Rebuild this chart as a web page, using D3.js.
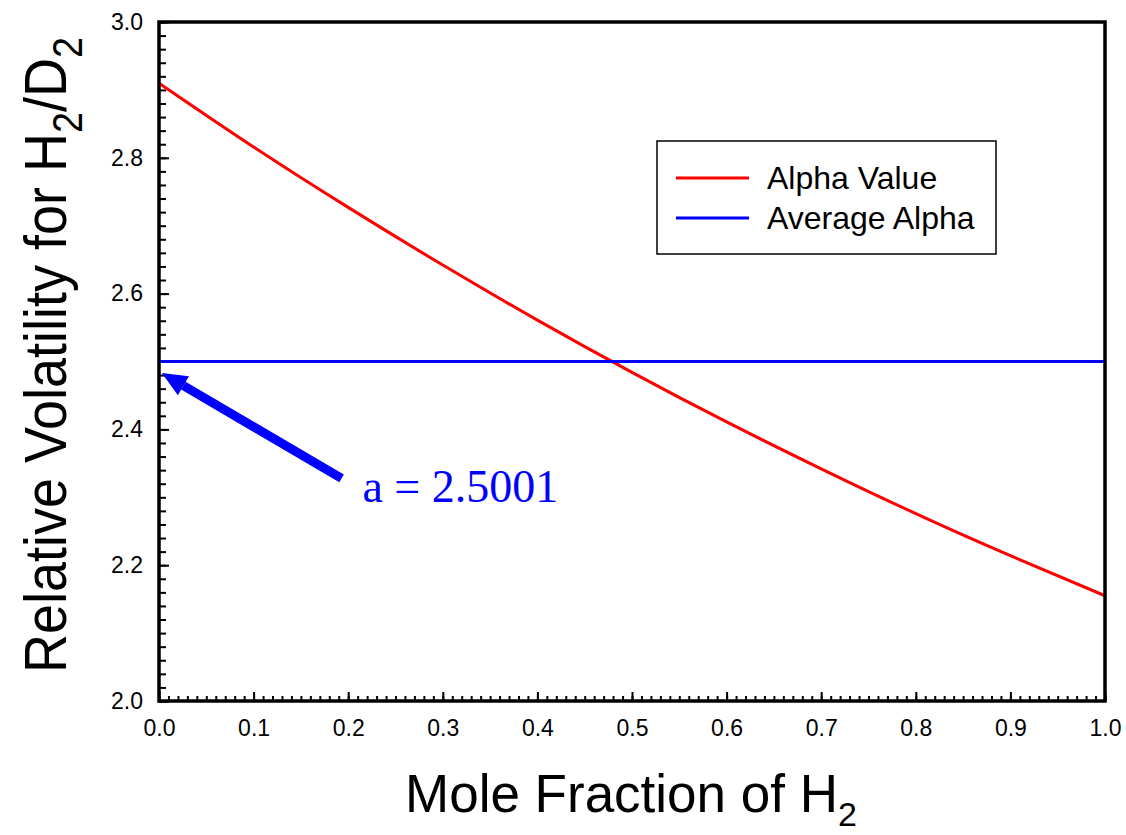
<!DOCTYPE html>
<html>
<head>
<meta charset="utf-8">
<script src="https://cdn.jsdelivr.net/npm/d3@7"></script>
<style>
  body { margin: 0; background: #fff; }
  text { font-family: Arial, "Liberation Sans", sans-serif; }
</style>
</head>
<body>
<svg id="chart"></svg>
<script>
// data
const moleFraction = [0.0, 0.1, 0.2, 0.3, 0.4, 0.5, 0.6, 0.7, 0.8, 0.9, 1.0];
const alphaValue   = [2.910, 2.816, 2.727, 2.642, 2.561, 2.484, 2.411, 2.342, 2.276, 2.214, 2.155];
const averageAlpha = 2.5001;
const seriesNames  = ['Alpha Value', 'Average Alpha'];
const seriesColors = ['#ff0000', '#0000ff'];
const xTicks = [0, 0.1, 0.2, 0.3, 0.4, 0.5, 0.6, 0.7, 0.8, 0.9, 1.0];
const yTicks = [2.0, 2.2, 2.4, 2.6, 2.8, 3.0];
// annotation arrow (data units): tip, tail, label
const arrowTip  = [0.003, 2.483];
const arrowTail = [0.193, 2.328];
const labelPos  = [0.215, 2.293];

const width = 1126, height = 835;
const margin = {top: 22, right: 21, bottom: 134, left: 159};
const w = width - margin.left - margin.right;
const h = height - margin.top - margin.bottom;

const svg = d3.select('#chart').attr('width', width).attr('height', height);
const g = svg.append('g').attr('transform', `translate(${margin.left},${margin.top})`);

const x = d3.scaleLinear().domain([0, 1]).range([0, w]);
const y = d3.scaleLinear().domain([2, 3]).range([h, 0]);

// minor + major ticks, all pointing inward
const xMinor = d3.axisBottom(x).tickValues(d3.range(0, 1.0001, 0.01)).tickSize(-5).tickFormat('');
const yMinor = d3.axisLeft(y).tickValues(d3.range(2, 3.0001, 0.02)).tickSize(-7).tickFormat('');
const xMajor = d3.axisBottom(x).tickValues(xTicks).tickSize(-9).tickPadding(19).tickFormat(d3.format('.1f'));
const yMajor = d3.axisLeft(y).tickValues(yTicks).tickSize(-10).tickPadding(16).tickFormat(d3.format('.1f'));

[[xMinor, true], [xMajor, true], [yMinor, false], [yMajor, false]].forEach(([ax, isX]) => {
  const a = g.append('g').attr('transform', isX ? `translate(0,${h})` : null).call(ax);
  a.select('.domain').remove();
  a.selectAll('.tick line').attr('stroke', '#000').attr('stroke-width', 2);
  a.selectAll('.tick text').attr('font-size', 23).attr('fill', '#000');
});

// curves
const line = d3.line().x((d, i) => x(moleFraction[i])).y(d => y(d)).curve(d3.curveNatural);
g.append('path').datum(alphaValue)
  .attr('d', line).attr('fill', 'none')
  .attr('stroke', seriesColors[0]).attr('stroke-width', 3);

g.append('line')
  .attr('x1', x(0)).attr('x2', x(1))
  .attr('y1', y(averageAlpha)).attr('y2', y(averageAlpha))
  .attr('stroke', seriesColors[1]).attr('stroke-width', 3);

// frame
g.append('rect').attr('width', w).attr('height', h)
  .attr('fill', 'none').attr('stroke', '#000').attr('stroke-width', 3.5);

// arrow annotation
const tip = [x(arrowTip[0]), y(arrowTip[1])];
const tail = [x(arrowTail[0]), y(arrowTail[1])];
const ang = Math.atan2(tip[1] - tail[1], tip[0] - tail[0]);
const headLen = 25, headHalf = 11;
const base = [tip[0] - headLen * Math.cos(ang), tip[1] - headLen * Math.sin(ang)];
g.append('line')
  .attr('x1', tail[0]).attr('y1', tail[1]).attr('x2', base[0]).attr('y2', base[1])
  .attr('stroke', seriesColors[1]).attr('stroke-width', 9);
g.append('path')
  .attr('d', d3.line()([
    tip,
    [base[0] + headHalf * Math.sin(ang), base[1] - headHalf * Math.cos(ang)],
    [base[0] - headHalf * Math.sin(ang), base[1] + headHalf * Math.cos(ang)]
  ]) + 'Z')
  .attr('fill', seriesColors[1]);
g.append('text')
  .attr('x', x(labelPos[0])).attr('y', y(labelPos[1]))
  .style('font-family', '"Liberation Serif", "Times New Roman", serif')
  .attr('font-size', 46).attr('fill', seriesColors[1])
  .text(`a = ${averageAlpha.toFixed(4)}`);

// legend
const lg = svg.append('g').attr('transform', 'translate(657,141)');
lg.append('rect').attr('width', 339).attr('height', 113)
  .attr('fill', '#fff').attr('stroke', '#000').attr('stroke-width', 1.5);
seriesNames.forEach((name, i) => {
  const yy = 37 + i * 40;
  lg.append('line').attr('x1', 19).attr('x2', 92).attr('y1', yy).attr('y2', yy)
    .attr('stroke', seriesColors[i]).attr('stroke-width', 3);
  lg.append('text').attr('x', 110).attr('y', yy + 11)
    .attr('font-size', 32).attr('fill', '#000').text(name);
});

// axis titles
const xt = svg.append('text')
  .attr('transform', 'translate(405,812)')
  .attr('font-size', 53).attr('fill', '#000');
xt.append('tspan').text('Mole Fraction of H');
xt.append('tspan').attr('dy', 14).attr('font-size', 34).text('2');

const yt = svg.append('text')
  .attr('transform', 'translate(66,673) rotate(-90) scale(0.9,1)')
  .attr('font-size', 60).attr('fill', '#000');
yt.append('tspan').text('Relative Volatility for H');
yt.append('tspan').attr('dy', 16).attr('font-size', 42).text('2');
yt.append('tspan').attr('dy', -16).text('/D');
yt.append('tspan').attr('dy', 16).attr('font-size', 42).text('2');
</script>
</body>
</html>
